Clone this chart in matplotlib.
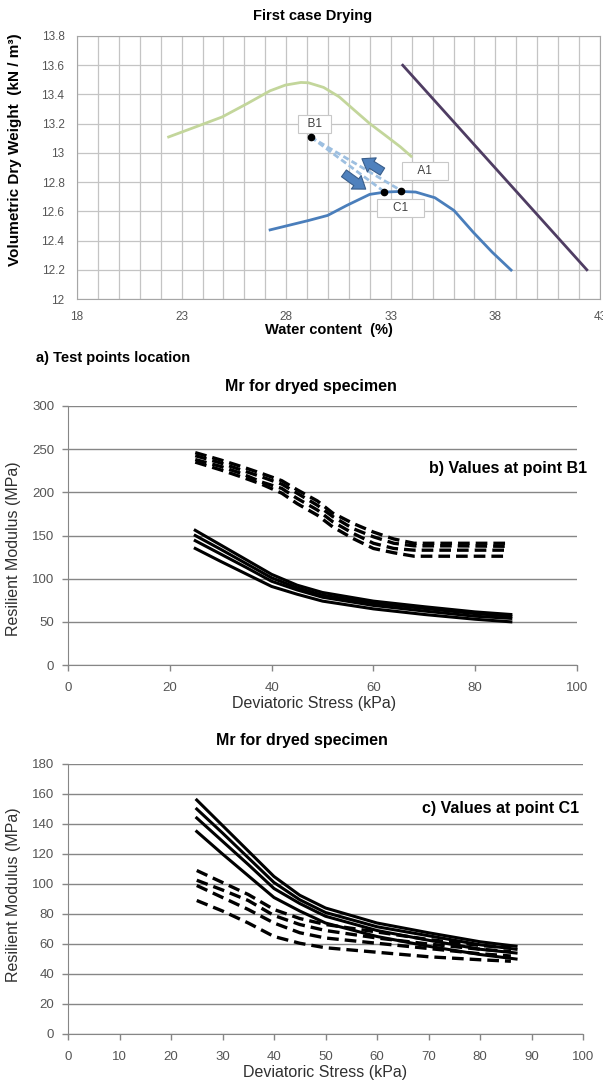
import matplotlib
matplotlib.use('Agg')
import matplotlib.pyplot as plt

plt.rcParams['font.family'] = ['Liberation Sans', 'DejaVu Sans']

W, H = 603, 1085

# a) compaction curves, water content (%) vs dry weight (kN/m3)
green_w = [22.38, 23.75, 24.94, 26.13, 27.23, 27.96, 28.70, 29.06, 29.79,
           30.53, 31.26, 31.99, 32.73, 33.46, 33.97]
green_d = [13.109, 13.182, 13.246, 13.337, 13.425, 13.464, 13.482, 13.480,
           13.448, 13.384, 13.292, 13.201, 13.121, 13.041, 12.977]
blue_w = [27.23, 29.06, 29.98, 30.89, 31.99, 32.73, 33.46, 34.19, 35.11,
          36.02, 36.94, 37.85, 38.75]
blue_d = [12.473, 12.537, 12.572, 12.640, 12.716, 12.732, 12.736, 12.732,
          12.693, 12.606, 12.457, 12.320, 12.198]
sat_w = [33.57, 42.37]
sat_d = [13.6, 12.2]

point_names = ['B1', 'C1', 'A1']
point_w = [29.18, 32.68, 33.49]
point_d = [13.108, 12.735, 12.742]
label_w = [29.35, 33.46, 34.65]
label_d = [13.195, 12.62, 12.877]

# drying / wetting arrows (tail -> head)
arrow_tail = [(30.76, 12.86), (32.60, 12.872)]
arrow_head = [(31.80, 12.752), (31.62, 12.96)]

# b) and c) resilient modulus vs deviatoric stress
stress = [25, 30, 35, 40, 45, 50, 60, 70, 80, 87]
mr_solid = [
    [156, 139, 122, 105, 92.5, 84, 74, 67.5, 61.5, 58.5],
    [150, 134, 117.5, 101, 89.5, 81, 71.5, 65.5, 59.5, 56.5],
    [144, 128.5, 113, 97, 87, 78.5, 69, 62.5, 56.5, 54],
    [135, 120, 105.5, 91, 82, 74, 65, 58.5, 53, 50],
]

stress_b1 = [25, 30, 34, 38, 42, 45, 49, 52, 56, 60, 64, 68, 76, 86]
mr_b1 = [
    [246, 237.5, 230, 222, 213.5, 203, 190, 176, 164, 154, 146, 141, 141, 141],
    [242.5, 234, 226, 218, 209.5, 199, 185, 172, 158, 148.5, 141, 138, 138, 137.5],
    [238, 230, 222, 212, 204.5, 193, 179.5, 166, 152.5, 141, 135, 133, 133, 133],
    [235, 226, 218, 209.5, 199, 187, 173.5, 160, 146.5, 135, 130, 126, 126, 126],
]

stress_c1 = [25, 30, 35, 40, 45, 50, 60, 70, 80, 86]
mr_c1 = [
    [109, 101, 93, 83, 77, 73, 68, 63, 59, 57.5],
    [102.5, 96, 89, 79, 73, 69, 64, 60, 56.5, 55],
    [99, 91, 83, 74, 67.5, 64, 60.5, 57, 53.5, 52],
    [89, 82, 74, 65, 60.5, 57.5, 54.5, 51.5, 49.5, 48.5],
]


def rect(left, top, right, bottom):
    """Axes rectangle from pixel edges."""
    return [left / W, 1 - bottom / H, (right - left) / W, (bottom - top) / H]


def fig_text(fig, x, y, s, **kw):
    fig.text(x / W, 1 - y / H, s, **kw)


def draw_compaction(fig):
    ax = fig.add_axes(rect(77, 36, 600, 299))
    ax.set_xlim(18, 43)
    ax.set_ylim(12, 13.8)
    ax.set_xticks(range(18, 44))
    ax.set_xticklabels([str(v) if (v - 18) % 5 == 0 else '' for v in range(18, 44)])
    yt = [12 + 0.2 * i for i in range(10)]
    ax.set_yticks(yt)
    ax.set_yticklabels(['%g' % round(v, 1) for v in yt])
    ax.grid(True, color='#c4c4c4', lw=0.9)
    ax.set_axisbelow(True)
    for s in ax.spines.values():
        s.set_color('#a6a6a6')
    ax.tick_params(length=0, labelsize=8.5, colors='#555555')
    ax.tick_params(axis='x', pad=9)
    ax.tick_params(axis='y', pad=9)

    ax.plot(green_w, green_d, color='#c3d69b', lw=2)
    ax.plot(blue_w, blue_d, color='#4a7ebb', lw=2)
    ax.plot(sat_w, sat_d, color='#4f3d63', lw=2)

    for i in (1, 2):
        ax.plot([point_w[0], point_w[i]], [point_d[0], point_d[i]],
                color='#9dbfe0', lw=2, dashes=(2.2, 1.2))
    ax.plot(point_w, point_d, 'o', color='black', ms=4.5, zorder=5)

    for name, x, y in zip(point_names, label_w, label_d):
        pad = '  ' if name == 'B1' else '    '
        ax.text(x, y, pad + name + pad, ha='center', va='center', fontsize=8.5,
                color='#404040',
                bbox=dict(boxstyle='square,pad=0.25', fc='white',
                          ec='#c8c8c8', lw=0.8))

    for tail, head in zip(arrow_tail, arrow_head):
        ax.annotate('', xy=head, xytext=tail,
                    arrowprops=dict(arrowstyle='simple,head_length=0.7,'
                                    'head_width=1.0,tail_width=0.5',
                                    fc='#4f81bd', ec='#385d8a', lw=0.8,
                                    mutation_scale=12, shrinkA=0, shrinkB=0))

    ax.set_ylabel('Volumetric Dry Weight  (kN / m\u00b3)', fontsize=11,
                  fontweight='bold')
    ax.yaxis.set_label_coords(-0.105, 0.566)
    ax.set_xlabel('Water content  (%)', fontsize=10.5, fontweight='bold')
    ax.xaxis.set_label_coords(0.482, -0.09)
    fig_text(fig, 313, 16, 'First case Drying', ha='center', va='center',
             fontsize=10.5, fontweight='bold')
    fig_text(fig, 36, 358, 'a) Test points location', ha='left', va='center',
             fontsize=10.5, fontweight='bold')


def style_modulus(ax, ymax, ystep, xstep):
    ax.set_xlim(0, 100)
    ax.set_ylim(0, ymax)
    ax.set_xticks(range(0, 101, xstep))
    ax.set_yticks(range(0, ymax + 1, ystep))
    ax.grid(True, axis='y', color='#868686', lw=1)
    ax.set_axisbelow(True)
    for side in ('top', 'right'):
        ax.spines[side].set_visible(False)
    for side in ('left', 'bottom'):
        ax.spines[side].set_color('#868686')
    ax.tick_params(length=4, width=1, color='#868686', labelsize=9.5,
                   labelcolor='#555555')
    ax.tick_params(axis='x', pad=8)
    ax.tick_params(axis='y', pad=6)
    ax.set_ylabel('Resilient Modulus (MPa)', fontsize=11.5, color='#303030')
    ax.set_xlabel('Deviatoric Stress (kPa)', fontsize=11.5, color='#303030')


def draw_modulus(fig, box, dashed_x, dashed_y, ymax, ystep, xstep):
    ax = fig.add_axes(box)
    style_modulus(ax, ymax, ystep, xstep)
    for ys in dashed_y:
        ax.plot(dashed_x, ys, color='black', lw=2.4, dashes=(3.5, 1.8))
    for ys in mr_solid:
        ax.plot(stress, ys, color='black', lw=2.2)
    return ax


def main():
    fig = plt.figure(figsize=(W / 100, H / 100), dpi=100)
    draw_compaction(fig)

    ax_b = draw_modulus(fig, rect(68, 406, 577, 665), stress_b1, mr_b1,
                        300, 50, 20)
    ax_b.yaxis.set_label_coords(-0.092, 0.45)
    ax_b.xaxis.set_label_coords(0.483, -0.12)
    fig_text(fig, 311, 387, 'Mr for dryed specimen', ha='center',
             va='center', fontsize=11.5, fontweight='bold')
    fig_text(fig, 587, 468, 'b) Values at point B1', ha='right',
             va='center', fontsize=11.5, fontweight='bold')

    ax_c = draw_modulus(fig, rect(68, 764, 583, 1034), stress_c1, mr_c1,
                        180, 20, 10)
    ax_c.yaxis.set_label_coords(-0.091, 0.515)
    ax_c.xaxis.set_label_coords(0.5, -0.115)
    fig_text(fig, 302, 741, 'Mr for dryed specimen', ha='center',
             va='center', fontsize=11.5, fontweight='bold')
    fig_text(fig, 579, 809, 'c) Values at point C1', ha='right',
             va='center', fontsize=11.5, fontweight='bold')

    fig.savefig('out.png', dpi=100)


main()
